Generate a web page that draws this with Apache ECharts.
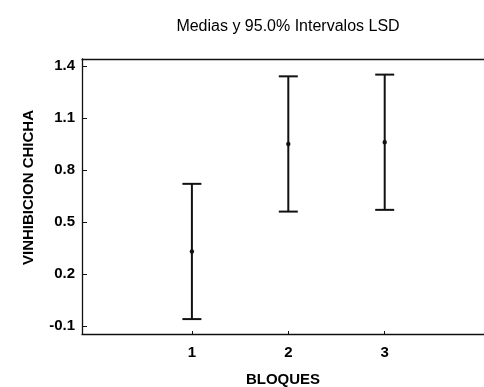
<!DOCTYPE html>
<html>
<head>
<meta charset="utf-8">
<script src="https://cdn.jsdelivr.net/npm/echarts@6/dist/echarts.min.js"></script>
<style>
  html, body { margin: 0; padding: 0; background: #fff; }
  #chart { width: 484px; height: 387px; }
</style>
</head>
<body>
<div id="chart"></div>
<script>
// Block means with 95% LSD intervals
const bloques = [1, 2, 3];
const medias = [0.33, 0.95, 0.96];
const limiteInferior = [-0.06, 0.56, 0.57];
const limiteSuperior = [0.72, 1.34, 1.35];
const yTicks = [1.4, 1.1, 0.8, 0.5, 0.2, -0.1];
const xTicks = [1, 2, 3];

const intervalos = bloques.map((b, i) => [b, limiteInferior[i], limiteSuperior[i], medias[i]]);

const font = 'Liberation Sans, Arial, sans-serif';
const chart = echarts.init(document.getElementById('chart'), null, { renderer: 'canvas' });

chart.setOption({
  animation: false,
  backgroundColor: '#fff',
  title: {
    text: 'Medias y 95.0% Intervalos LSD',
    left: 283, top: 14, textAlign: 'center',
    textStyle: { fontFamily: font, fontSize: 16, fontWeight: 'normal', color: '#000' }
  },
  grid: { left: 82, right: 0, top: 59, bottom: 53, outerBoundsMode: 'none', containLabel: false },
  xAxis: [{
    type: 'value', min: -0.14, max: 4.03,
    name: 'BLOQUES', nameLocation: 'middle', nameGap: 38,
    nameTextStyle: { fontFamily: font, fontSize: 15, fontWeight: 'bold', color: '#000' },
    axisLine: { show: true, onZero: false, lineStyle: { color: '#111', width: 1.3 } },
    axisTick: { show: true, inside: true, length: 3, customValues: xTicks, lineStyle: { color: '#111' } },
    axisLabel: { customValues: xTicks, margin: 11, fontFamily: font, fontSize: 15, fontWeight: 'bold', color: '#000' },
    splitLine: { show: false }
  }, {
    type: 'value', position: 'top', min: -0.14, max: 4.03,
    axisLine: { show: true, onZero: false, lineStyle: { color: '#111', width: 1.3 } },
    axisTick: { show: false }, axisLabel: { show: false }, splitLine: { show: false }
  }],
  yAxis: {
    type: 'value', min: -0.146, max: 1.44,
    name: 'VINHIBICION CHICHA', nameLocation: 'middle', nameGap: 46, nameRotate: 90,
    nameTextStyle: { fontFamily: font, fontSize: 15, fontWeight: 'bold', color: '#000', padding: [0, 0, 0, 18] },
    axisLine: { show: true, onZero: false, lineStyle: { color: '#111', width: 1.3 } },
    axisTick: { show: true, inside: true, length: 5, customValues: yTicks, lineStyle: { color: '#111' } },
    axisLabel: {
      customValues: yTicks, margin: 7, fontFamily: font, fontSize: 15, fontWeight: 'bold', color: '#000',
      formatter: v => v.toFixed(1)
    },
    splitLine: { show: false }
  },
  series: [{
    type: 'custom',
    data: intervalos,
    renderItem: function (params, api) {
      const x = api.value(0);
      const lo = api.coord([x, api.value(1)]);
      const hi = api.coord([x, api.value(2)]);
      const mid = api.coord([x, api.value(3)]);
      const half = 9.5;
      const stroke = { stroke: '#111', lineWidth: 2 };
      return {
        type: 'group',
        children: [
          { type: 'line', shape: { x1: lo[0], y1: lo[1], x2: hi[0], y2: hi[1] }, style: stroke },
          { type: 'line', shape: { x1: hi[0] - half, y1: hi[1], x2: hi[0] + half, y2: hi[1] }, style: stroke },
          { type: 'line', shape: { x1: lo[0] - half, y1: lo[1], x2: lo[0] + half, y2: lo[1] }, style: stroke },
          { type: 'circle', shape: { cx: mid[0], cy: mid[1], r: 2.2 }, style: { fill: '#111' } }
        ]
      };
    }
  }]
});
</script>
</body>
</html>
